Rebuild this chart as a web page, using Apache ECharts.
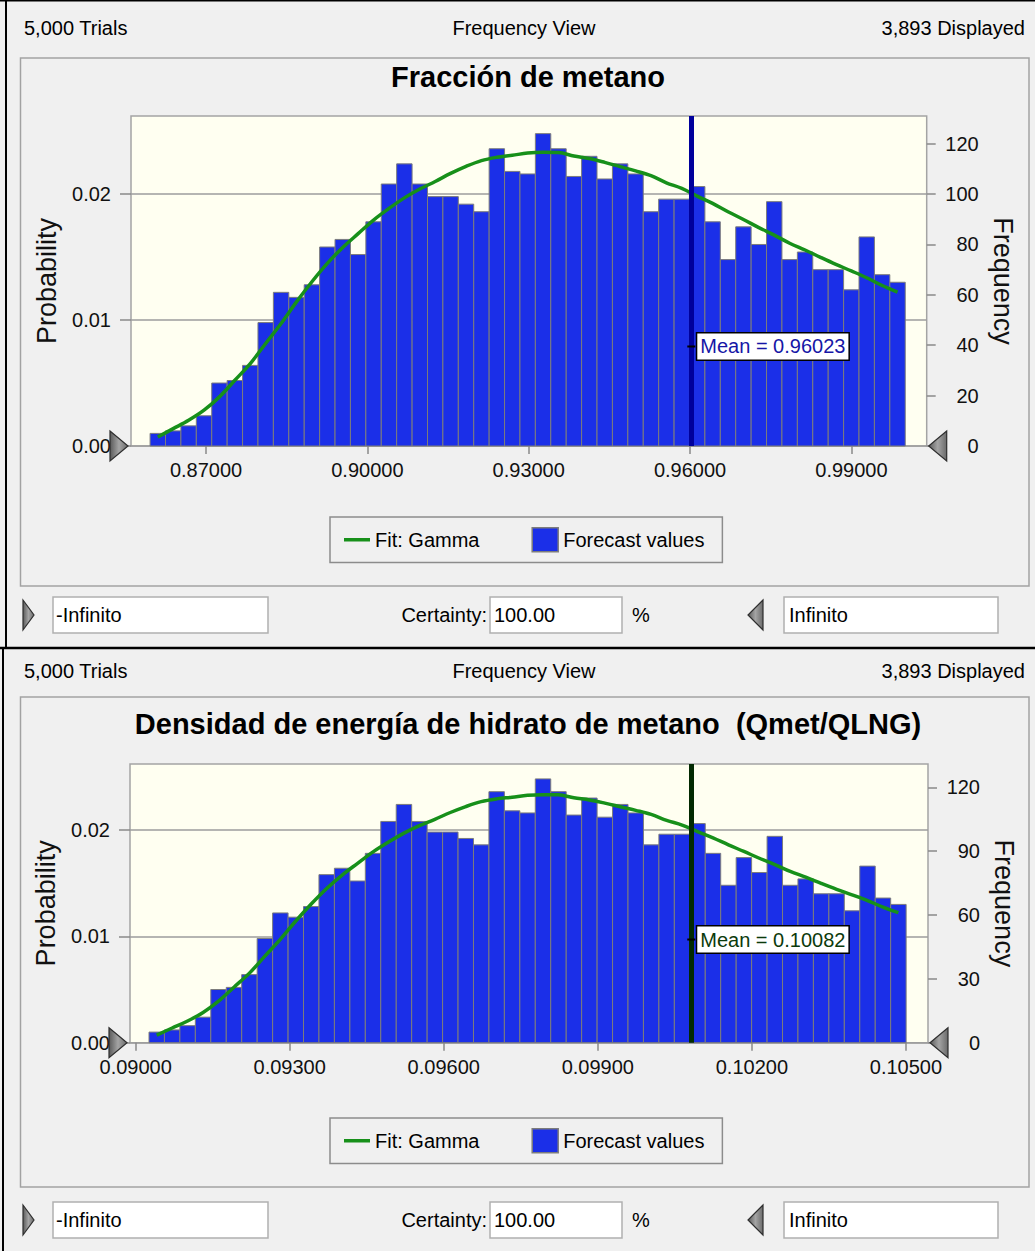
<!DOCTYPE html>
<html>
<head>
<meta charset="utf-8">
<script src="https://cdn.jsdelivr.net/npm/echarts@6/dist/echarts.min.js"></script>
<style>
  html, body { margin: 0; padding: 0; background: #f0f0f0; }
  #chart { width: 1035px; height: 1251px; }
</style>
</head>
<body>
<div id="chart"></div>
<script>
// Forecast frequency views: methane fraction and methane-hydrate energy density.
const TRIALS = 5000;
const DISPLAYED = 3893;

// Frequencies of the 49 histogram bins. Energy density is a linear function of the
// methane fraction, so both forecasts share the same bin counts.
const binCounts = [5, 6, 8, 12, 25, 26, 32, 49, 61, 59, 64, 79, 82, 76, 89, 104, 112, 104, 99, 99,
  96, 93, 118, 109, 108, 124, 118, 107, 115, 106, 112, 108, 93, 98, 98, 103, 89, 74, 87, 80,
  97, 74, 77, 70, 70, 62, 83, 68, 65];

// Fitted gamma density at each bin centre, in frequency units.
const gammaFit = [3.6, 6.9, 10.2, 14.2, 19.5, 26.1, 32.7, 40.7, 48.6, 57.2, 65.2, 72.5, 78.8, 84.3,
  89.7, 94.3, 98.5, 102.0, 105.0, 108.2, 111.0, 113.3, 114.6, 115.4, 116.3, 116.6, 116.5, 115.1,
  114.1, 112.6, 110.9, 109.2, 107.3, 104.5, 102.3, 99.2, 96.3, 93.0, 89.9, 86.7, 83.7, 80.5, 77.8,
  74.9, 72.1, 69.5, 66.8, 63.7, 61.1];

// Bin edges on each variable's own scale.
const methaneBinStart = 0.8596, methaneBinWidth = 0.0028655;
const energyBinStart = 0.09026, energyBinWidth = 0.0003009;

const methaneMean = 0.96023;
const energyMean = 0.10082;

const methaneRange = [0.85605, 1.0040];
const energyRange = [0.08989, 0.10543];
const methaneTicks = [0.87, 0.90, 0.93, 0.96, 0.99];
const energyTicks = [0.090, 0.093, 0.096, 0.099, 0.102, 0.105];
const probTicks = [0, 0.01, 0.02];
const methaneFreqTicks = [0, 20, 40, 60, 80, 100, 120];
const energyFreqTicks = [0, 30, 60, 90, 120];
const FREQ_MAX = 131;

const FONT = '"Liberation Sans", Arial, sans-serif';
const BAR_FILL = '#1b2fe8';
const BAR_EDGE = '#7c7c7c';
const FIT_COLOR = '#17901a';

const panels = [
  {
    title: 'Fracción de metano',
    binStart: methaneBinStart, binWidth: methaneBinWidth,
    mean: methaneMean, meanColor: '#00009c', meanText: '#1616a6', meanLabelAt: 39.5,
    range: methaneRange, xTicks: methaneTicks, freqTicks: methaneFreqTicks,
    headerY: 28, frame: [20.5, 58, 1008.5, 528], titleY: 77,
    grid: { left: 131, top: 116, width: 795.7, height: 330 },
    legendTop: 517, rowTop: 597
  },
  {
    title: 'Densidad de energía de hidrato de metano  (Qmet/QLNG)',
    binStart: energyBinStart, binWidth: energyBinWidth,
    mean: energyMean, meanColor: '#022a02', meanText: '#0c3a0c', meanLabelAt: 48.5,
    range: energyRange, xTicks: energyTicks, freqTicks: energyFreqTicks,
    headerY: 671, frame: [20.5, 697, 1008.5, 490], titleY: 724,
    grid: { left: 130, top: 764, width: 798, height: 278.7 },
    legendTop: 1118, rowTop: 1202
  }
];

const grids = [], xAxes = [], yAxes = [], series = [], legends = [], graphics = [];

function txt(text, x, y, opts) {
  return {
    type: 'text', silent: true, z: 10,
    style: Object.assign({ text: text, x: x, y: y, fill: '#000', fontSize: 20, fontFamily: FONT,
                           align: 'left', verticalAlign: 'middle' }, opts || {})
  };
}
function box(x, y, w, h) {
  return { type: 'rect', silent: true, z: 5, shape: { x: x, y: y, width: w, height: h },
           style: { fill: '#ffffff', stroke: '#b0b0b0', lineWidth: 1.5 } };
}
function tri(points) {
  return { type: 'polygon', silent: true, z: 20, shape: { points: points },
           style: { fill: new echarts.graphic.LinearGradient(0, 0, 1, 0,
             [{ offset: 0, color: '#5a5a5a' }, { offset: 0.5, color: '#a4a4a4' }, { offset: 1, color: '#6a6a6a' }]),
             stroke: '#2e2e2e', lineWidth: 1.2 } };
}

panels.forEach(function (p, i) {
  grids.push({
    left: p.grid.left, top: p.grid.top, width: p.grid.width, height: p.grid.height,
    show: true, backgroundColor: '#fffff1', borderColor: '#a4a4a4', borderWidth: 1.5
  });

  xAxes.push({
    type: 'value', gridIndex: i, min: p.range[0], max: p.range[1],
    axisLine: { show: false }, splitLine: { show: false },
    axisTick: { show: true, customValues: p.xTicks, length: 8, lineStyle: { color: '#8a8a8a', width: 1.5 } },
    axisLabel: { customValues: p.xTicks, formatter: function (v) { return v.toFixed(5); },
                 margin: 14, fontSize: 20, color: '#111', fontFamily: FONT }
  });

  yAxes.push({
    type: 'value', gridIndex: i, position: 'left', min: 0, max: FREQ_MAX / TRIALS, interval: 0.01,
    axisLine: { show: false },
    axisTick: { show: true, customValues: probTicks, length: 11, lineStyle: { color: '#8a8a8a', width: 1.5 } },
    axisLabel: { customValues: probTicks, formatter: function (v) { return v.toFixed(2); },
                 margin: 20, fontSize: 20, color: '#111', fontFamily: FONT },
    splitLine: { show: true, lineStyle: { color: '#9c9c9c', width: 1.5 } },
    name: 'Probability', nameLocation: 'middle', nameGap: 71,
    nameTextStyle: { fontSize: 27, color: '#111', fontFamily: FONT }
  });
  yAxes.push({
    type: 'value', gridIndex: i, position: 'right', min: 0, max: FREQ_MAX,
    axisLine: { show: false }, splitLine: { show: false },
    axisTick: { show: true, customValues: p.freqTicks, length: 9, lineStyle: { color: '#8a8a8a', width: 1.5 } },
    axisLabel: { customValues: p.freqTicks, align: 'right', margin: 52, fontSize: 20, color: '#111', fontFamily: FONT },
    name: 'Frequency', nameLocation: 'middle', nameRotate: -90, nameGap: 60,
    nameTextStyle: { fontSize: 27, color: '#111', fontFamily: FONT }
  });

  const bins = binCounts.map(function (c, k) {
    return [p.binStart + k * p.binWidth, p.binStart + (k + 1) * p.binWidth, c];
  });
  const fitLine = gammaFit.map(function (f, k) {
    return [p.binStart + (k + 0.5) * p.binWidth, f];
  });

  series.push({
    type: 'custom', name: 'Forecast values', xAxisIndex: i, yAxisIndex: 2 * i + 1,
    itemStyle: { color: BAR_FILL, borderColor: BAR_EDGE, borderWidth: 1 },
    encode: { x: [0, 1], y: 2 }, data: bins, silent: true, z: 2,
    renderItem: function (params, api) {
      const a = api.coord([api.value(0), api.value(2)]);
      const b = api.coord([api.value(1), 0]);
      return { type: 'rect', shape: { x: a[0], y: a[1], width: b[0] - a[0], height: b[1] - a[1] },
               style: { fill: BAR_FILL, stroke: BAR_EDGE, lineWidth: 1 } };
    }
  });

  series.push({
    type: 'line', name: 'Fit: Gamma', xAxisIndex: i, yAxisIndex: 2 * i + 1,
    data: fitLine, smooth: 0.35, showSymbol: false, symbol: 'none', silent: true, z: 4,
    lineStyle: { color: FIT_COLOR, width: 3.5 }, itemStyle: { color: FIT_COLOR },
    markLine: {
      silent: true, symbol: 'none', animation: false, precision: 6,
      lineStyle: { color: p.meanColor, width: 5, type: 'solid' },
      label: { show: false },
      data: [{ xAxis: p.mean }]
    },
    markPoint: {
      silent: true, animation: false,
      symbol: 'rect', symbolSize: [8, 2], itemStyle: { color: '#000' },
      label: {
        show: true, position: 'right', distance: 2,
        formatter: 'Mean = ' + p.mean.toFixed(5),
        backgroundColor: '#ffffff', borderColor: '#000', borderWidth: 1.5,
        padding: [4, 3, 2, 3], fontSize: 20, color: p.meanText, fontFamily: FONT
      },
      data: [{ coord: [p.mean, p.meanLabelAt] }]
    }
  });

  legends.push({
    left: 330, top: p.legendTop, orient: 'horizontal',
    padding: [10, 18, 10, 14], itemGap: 52, itemWidth: 26, itemHeight: 24,
    borderColor: '#8c8c8c', borderWidth: 1.5, backgroundColor: 'transparent',
    selectedMode: false, symbolKeepAspect: true,
    textStyle: { fontSize: 20, color: '#000', fontFamily: FONT },
    data: [
      { name: 'Fit: Gamma', icon: 'path://M0,0 L26,0 L26,3.5 L0,3.5 Z', itemStyle: { color: FIT_COLOR, borderWidth: 0 } },
      { name: 'Forecast values', icon: 'rect', itemStyle: { color: BAR_FILL, borderColor: '#7c7c7c', borderWidth: 1.5 } }
    ]
  });

  // Header strip
  graphics.push(txt(TRIALS.toLocaleString('en-US') + ' Trials', 24, p.headerY));
  graphics.push(txt('Frequency View', 524, p.headerY, { align: 'center' }));
  graphics.push(txt(DISPLAYED.toLocaleString('en-US') + ' Displayed', 1025, p.headerY, { align: 'right' }));
  // Chart frame and title
  graphics.push({ type: 'rect', silent: true, z: 1,
    shape: { x: p.frame[0], y: p.frame[1], width: p.frame[2], height: p.frame[3] },
    style: { fill: 'none', stroke: '#a2a2a2', lineWidth: 1.5 } });
  graphics.push(txt(p.title, 528, p.titleY, { align: 'center', fontSize: 29, fontWeight: 'bold' }));
  // Certainty row
  const r = p.rowTop;
  graphics.push(tri([[23, r + 3], [34, r + 18], [23, r + 33]]));
  graphics.push(box(53, r, 215, 36));
  graphics.push(txt('-Infinito', 56, r + 18));
  graphics.push(txt('Certainty:', 487, r + 18, { align: 'right' }));
  graphics.push(box(490, r, 132, 36));
  graphics.push(txt('100.00', 494, r + 18));
  graphics.push(txt('%', 632, r + 18));
  graphics.push(tri([[763, r + 3], [748, r + 18], [763, r + 33]]));
  graphics.push(box(784, r, 214, 36));
  graphics.push(txt('Infinito', 789, r + 18));
});

// Window edges between the two views
graphics.push({ type: 'line', silent: true, z: 30, shape: { x1: 0, y1: 0.75, x2: 1035, y2: 0.75 }, style: { stroke: '#000', lineWidth: 1.5 } });
graphics.push({ type: 'line', silent: true, z: 30, shape: { x1: 6, y1: 0, x2: 6, y2: 648 }, style: { stroke: '#000', lineWidth: 2 } });
graphics.push({ type: 'line', silent: true, z: 30, shape: { x1: 0, y1: 648, x2: 1035, y2: 648 }, style: { stroke: '#000', lineWidth: 2.5 } });
graphics.push({ type: 'line', silent: true, z: 30, shape: { x1: 3, y1: 648, x2: 3, y2: 1251 }, style: { stroke: '#000', lineWidth: 2 } });

const chart = echarts.init(document.getElementById('chart'), null, { renderer: 'svg', width: 1035, height: 1251 });
chart.setOption({
  animation: false,
  backgroundColor: '#f0f0f0',
  textStyle: { fontFamily: FONT },
  grid: grids, xAxis: xAxes, yAxis: yAxes, series: series, legend: legends,
  graphic: { elements: graphics }
});

// Threshold markers at both ends of each frequency axis
const markers = [];
panels.forEach(function (p, i) {
  const lo = chart.convertToPixel({ xAxisIndex: i, yAxisIndex: 2 * i + 1 }, [p.range[0], 0]);
  const hi = chart.convertToPixel({ xAxisIndex: i, yAxisIndex: 2 * i + 1 }, [p.range[1], 0]);
  markers.push(tri([[lo[0] - 21, lo[1] - 15], [lo[0] - 3, lo[1]], [lo[0] - 21, lo[1] + 15]]));
  markers.push(tri([[hi[0] + 20, hi[1] - 15], [hi[0] + 2, hi[1]], [hi[0] + 20, hi[1] + 15]]));
});
chart.setOption({ graphic: { elements: graphics.concat(markers) } });
</script>
</body>
</html>
